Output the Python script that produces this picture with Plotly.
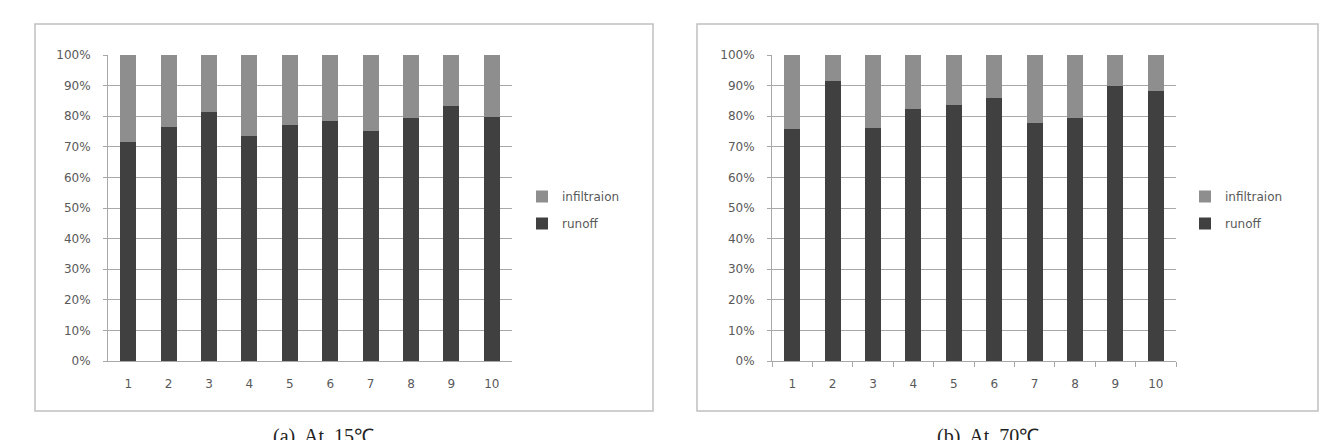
import plotly.graph_objects as go

categories = ["1", "2", "3", "4", "5", "6", "7", "8", "9", "10"]
runoff_15 = [71.7, 76.4, 81.4, 73.5, 77.2, 78.5, 75.3, 79.3, 83.4, 79.8]
runoff_70 = [75.7, 91.5, 76.0, 82.5, 83.6, 86.0, 77.7, 79.4, 89.9, 88.2]
infil_15 = [round(100 - v, 1) for v in runoff_15]
infil_70 = [round(100 - v, 1) for v in runoff_70]
y_ticks = [0, 10, 20, 30, 40, 50, 60, 70, 80, 90, 100]
y_tick_labels = ["0%", "10%", "20%", "30%", "40%", "50%", "60%", "70%", "80%", "90%", "100%"]
captions = ["(a)  At  15\u2103", "(b)  At  70\u2103"]

W, H = 1335, 440
RUNOFF_C = "#404040"
INFIL_C = "#8e8e8e"
GRID_C = "#a8a8a8"
TXT_C = "#595959"
FONT = "DejaVu Sans"

fig = go.Figure()

panels = [
    dict(xa="x", ya="y", leg="legend", run=runoff_15, inf=infil_15),
    dict(xa="x2", ya="y2", leg="legend2", run=runoff_70, inf=infil_70),
]
for p in panels:
    fig.add_trace(go.Bar(x=categories, y=p["run"], name="runoff", marker_color=RUNOFF_C,
                         marker_line_width=0, xaxis=p["xa"], yaxis=p["ya"], legend=p["leg"],
                         legendgroup="r", legendrank=2))
    fig.add_trace(go.Bar(x=categories, y=p["inf"], name="infiltraion", marker_color=INFIL_C,
                         marker_line_width=0, xaxis=p["xa"], yaxis=p["ya"], legend=p["leg"],
                         legendgroup="i", legendrank=1))

def px_x(v):
    return v / W

def px_y(v):
    return 1 - v / H

yaxis_common = dict(range=[0, 100], tickmode="array", tickvals=y_ticks, ticktext=y_tick_labels,
                    showgrid=True, automargin=False,
                    gridcolor=GRID_C, gridwidth=1, showline=True, linecolor=GRID_C, linewidth=1,
                    ticks="outside", ticklen=4, tickcolor=GRID_C, zeroline=False,
                    ticklabelstandoff=10,
                    tickfont=dict(family=FONT, size=12, color=TXT_C), fixedrange=True)
xaxis_common = dict(type="category", showgrid=False, showline=True, linecolor=GRID_C, linewidth=1,
                    automargin=False, ticklabelstandoff=12,
                    tickfont=dict(family=FONT, size=12, color=TXT_C), zeroline=False)

legend_common = dict(font=dict(family=FONT, size=12, color=TXT_C), bgcolor="rgba(0,0,0,0)",
                     traceorder="grouped", tracegroupgap=8, itemwidth=30,
                     xanchor="left", yanchor="middle", y=px_y(210))

fig.update_layout(
    width=W, height=H,
    margin=dict(l=0, r=0, t=0, b=0, autoexpand=False),
    paper_bgcolor="white", plot_bgcolor="white",
    barmode="stack", bargap=0.6,
    showlegend=True,
    xaxis=dict(domain=[px_x(108), px_x(512)], anchor="y", ticks="", **xaxis_common),
    yaxis=dict(domain=[px_y(361), px_y(55)], anchor="x", **yaxis_common),
    xaxis2=dict(domain=[px_x(772), px_x(1176)], anchor="y2", ticks="outside", ticklen=5,
                tickcolor=GRID_C, tickson="boundaries", **xaxis_common),
    yaxis2=dict(domain=[px_y(361), px_y(55)], anchor="x2", **yaxis_common),
    legend=dict(x=px_x(522), **legend_common),
    legend2=dict(x=px_x(1185), **legend_common),
)

frames = [(35, 653), (697, 1318)]
for x0, x1 in frames:
    fig.add_shape(type="rect", xref="paper", yref="paper",
                  x0=px_x(x0), x1=px_x(x1), y0=px_y(411), y1=px_y(24),
                  line=dict(color="#c0c0c0", width=1.5), fillcolor="rgba(0,0,0,0)", layer="below")

cap_x = [323, 988]
for cx, txt in zip(cap_x, captions):
    fig.add_annotation(text=txt, x=px_x(cx), y=px_y(423), xref="paper", yref="paper",
                       xanchor="center", yanchor="top", showarrow=False,
                       font=dict(family="Liberation Serif", size=20, color="#222222"))

fig.write_html("out.html")
